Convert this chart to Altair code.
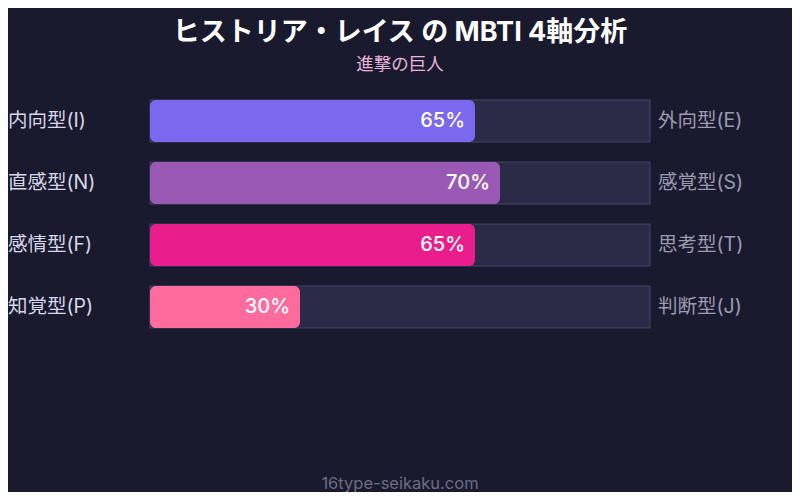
import altair as alt
import pandas as pd

left_labels = ["内向型(I)", "直感型(N)", "感情型(F)", "知覚型(P)"]
right_labels = ["外向型(E)", "感覚型(S)", "思考型(T)", "判断型(J)"]
values = [65, 70, 65, 30]
colors = ["#7b68ee", "#9b59b6", "#e91e8c", "#ff6b9d"]
title_text = "ヒストリア・レイス の MBTI 4軸分析"
subtitle_text = "進撃の巨人"
footer_text = "16type-seikaku.com"

FONT = "Inter, Noto Sans CJK JP, sans-serif"

df = pd.DataFrame({
    "row": list(range(len(values))),
    "left": left_labels,
    "right": right_labels,
    "value": values,
    "label": [f"{v}%" for v in values],
    "color": colors,
})
df["full"] = 100

xs = alt.Scale(domain=[0, 100], range=[142, 642])
ys = alt.Scale(domain=[0, 3], range=[113, 299], zero=False, nice=False, padding=0)

base = alt.Chart(df)
X = alt.X("value:Q", scale=xs, axis=None)
Y = alt.Y("row:Q", scale=ys, axis=None)

track = base.mark_bar(height=42, fill="#2b2b48", stroke="#44446a", strokeWidth=1).encode(
    x=alt.X("zero:Q", scale=xs, axis=None), x2="full:Q", y=Y
).transform_calculate(zero="0")

bars = base.mark_bar(height=42, cornerRadius=6).encode(
    x=alt.X("zero:Q", scale=xs, axis=None), x2="value:Q", y=Y,
    color=alt.Color("color:N", scale=None),
).transform_calculate(zero="0")

vals = base.mark_text(align="right", dx=-10, fontSize=20, fontWeight=500, color="#ffffff", font=FONT, baseline="middle").encode(
    x=X, y=Y, text="label:N"
)

lefts = base.mark_text(align="left", fontSize=19.5, color="#d6d6ea", font=FONT, baseline="middle").encode(
    x=alt.value(0), y=Y, text="left:N"
)

rights = base.mark_text(align="left", fontSize=19.5, color="#9a9ab0", font=FONT, baseline="middle").encode(
    x=alt.value(650), y=Y, text="right:N"
)

one = pd.DataFrame({"t": [title_text], "s": [subtitle_text], "f": [footer_text]})
title = alt.Chart(one).mark_text(fontSize=27, fontWeight="bold", color="#ffffff", font=FONT, baseline="middle").encode(
    x=alt.value(392), y=alt.value(25), text="t:N"
)
subtitle = alt.Chart(one).mark_text(fontSize=17.5, color="#e8b4dc", font=FONT, baseline="middle").encode(
    x=alt.value(392), y=alt.value(57), text="s:N"
)
footer = alt.Chart(one).mark_text(fontSize=16.5, color="#6c6c84", font=FONT, baseline="middle").encode(
    x=alt.value(392), y=alt.value(476), text="f:N"
)

chart = alt.layer(track, bars, vals, lefts, rights, title, subtitle, footer).properties(
    width=784, height=484, background="#1a1a2e",
    autosize=alt.AutoSizeParams(type="none"), padding=0,
).configure_view(stroke=None)

chart.save("out.html", embed_options={"renderer": "svg", "actions": False})
